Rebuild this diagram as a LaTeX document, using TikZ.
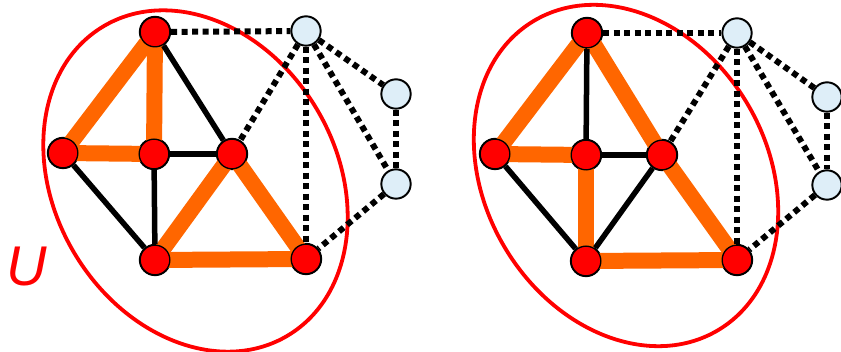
\documentclass[tikz,border=0pt]{standalone}
\usepackage{fontspec}
\setmainfont{Liberation Sans}
\definecolor{nodered}{HTML}{FF0000}
\definecolor{edgeorange}{HTML}{FF6600}
\definecolor{lightnode}{HTML}{DEEEF8}
\begin{document}
\begin{tikzpicture}[x=1pt,y=-1pt,
  rnode/.style={circle,draw=black,line width=1.3pt,fill=nodered,minimum size=31pt,inner sep=0pt},
  bnode/.style={circle,draw=black,line width=1.3pt,fill=lightnode,minimum size=30pt,inner sep=0pt},
  oedge/.style={draw=edgeorange,line width=16pt},
  kedge/.style={draw=black,line width=5.5pt},
  dedge/.style={draw=black,line width=6pt,dash pattern=on 6pt off 4.5pt},
  ring/.style={draw=red,line width=3.8pt}]
\useasboundingbox (0,0) rectangle (841,352);
% left ellipse
\draw[ring,rotate around={-59.2:(195.5,181)}] (195.5,181) ellipse [x radius=180pt, y radius=141pt];
% right ellipse
\draw[ring,rotate around={-59.2:(626,175.5)}] (626,175.5) ellipse [x radius=180pt, y radius=141pt];
% left nodes
\node[rnode] (lT) at (155,32) {};
\node[rnode] (lL) at (63,153) {};
\node[rnode] (lC) at (154,154) {};
\node[rnode] (lR) at (232,154) {};
\node[rnode] (lB) at (155,260) {};
\node[rnode] (lX) at (306,259) {};
\node[bnode] (lP) at (306,31) {};
\node[bnode] (lQ) at (396,94) {};
\node[bnode] (lS) at (396,184) {};
% right nodes
\node[rnode] (rT) at (587,33) {};
\node[rnode] (rL) at (495,154) {};
\node[rnode] (rC) at (586,155) {};
\node[rnode] (rR) at (662,155) {};
\node[rnode] (rB) at (586,261) {};
\node[rnode] (rX) at (737,260) {};
\node[bnode] (rP) at (737,33) {};
\node[bnode] (rQ) at (827,97) {};
\node[bnode] (rS) at (827,185) {};
% edges left
\path[oedge] (lT.center) -- (lL.center);
\path[oedge] (lT.center) -- (lC.center);
\path[oedge] (lL.center) -- (lC.center);
\path[oedge] (lR.center) -- (lB.center);
\path[oedge] (lR.center) -- (lX.center);
\path[oedge] (lB.center) -- (lX.center);
\path[kedge] (lT) -- (lR);
\path[kedge] (lC) -- (lR);
\path[kedge] (lC) -- (lB);
\path[kedge] (lL) -- (lB);
\path[dedge] (lT) -- (lP);
\path[dedge] (lP) -- (lR);
\path[dedge] (lP) -- (lX);
\path[dedge] (lP) -- (lQ);
\path[dedge] (lP) -- (lS);
\path[dedge] (lQ) -- (lS);
\path[dedge] (lS) -- (lX);
% edges right
\path[oedge] (rT.center) -- (rL.center);
\path[oedge] (rT.center) -- (rR.center);
\path[oedge] (rL.center) -- (rC.center);
\path[oedge] (rC.center) -- (rB.center);
\path[oedge] (rR.center) -- (rX.center);
\path[oedge] (rB.center) -- (rX.center);
\path[kedge] (rT) -- (rC);
\path[kedge] (rC) -- (rR);
\path[kedge] (rL) -- (rB);
\path[kedge] (rR) -- (rB);
\path[dedge] (rT) -- (rP);
\path[dedge] (rP) -- (rR);
\path[dedge] (rP) -- (rX);
\path[dedge] (rP) -- (rQ);
\path[dedge] (rP) -- (rS);
\path[dedge] (rQ) -- (rS);
\path[dedge] (rS) -- (rX);
% redraw nodes on top
\foreach \n in {lT,lL,lC,lR,lB,lX,rT,rL,rC,rR,rB,rX}{
  \path[draw=black,line width=1.3pt,fill=nodered] (\n.center) circle[radius=14.85pt];
}
\foreach \n in {lP,lQ,lS,rP,rQ,rS}{
  \path[draw=black,line width=1.3pt,fill=lightnode] (\n.center) circle[radius=14.35pt];
}
\node[text=red,font=\fontsize{56}{56}\itshape\selectfont,inner sep=0pt] (lab) at (27,267) {U};
\end{tikzpicture}
\end{document}
